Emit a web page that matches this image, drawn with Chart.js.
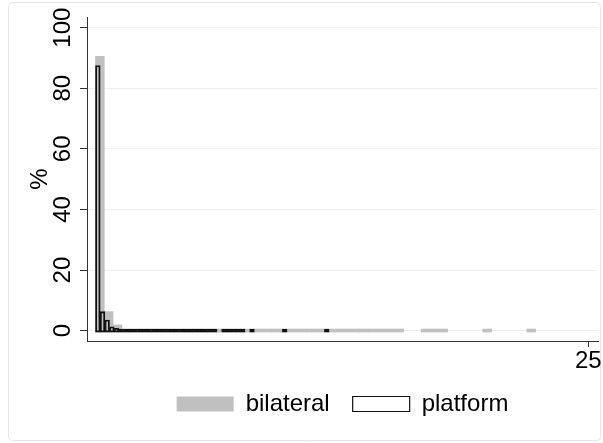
<!DOCTYPE html>
<html>
<head>
<meta charset="utf-8">
<script src="https://cdn.jsdelivr.net/npm/chart.js@4.4.1/dist/chart.umd.min.js"></script>
<style>
  html, body { margin: 0; padding: 0; background: #fff; }
</style>
</head>
<body>
<canvas id="chart" width="603" height="443"></canvas>
<script>
// Histogram data (percent per bin), 50 bins each
const seriesNames = ['bilateral', 'platform'];
const bilateralPct = [
  90.5, 6.3, 1.9, 0.4, 0.3, 0.2, 0.15, 0.12, 0.1, 0.1,
  0.09, 0.08, 0.08, 0.07, 0.07, 0.06, 0.06, 0.05, 0.05, 0.05,
  0.04, 0.04, 0.04, 0.03, 0.03, 0.03, 0.03, 0.02, 0.02, 0.02,
  0.02, 0.02, 0.02, 0.02, 0.02, null, null, 0.01, 0.01, 0.01,
  null, null, null, null, 0.01, null, null, null, null, 0.01
];
const platformPct = [
  87.5, 6.3, 3.5, 1.3, 0.8, 0.5, 0.3, 0.2, 0.15, 0.12,
  0.1, 0.09, 0.08, 0.07, 0.06, 0.05, 0.05, 0.04, 0.04, 0.03,
  0.03, 0.03, 0.02, 0.02, 0.02, 0.02, null, 0.01, 0.01, 0.01,
  0.01, 0.01, null, 0.01, null, null, null, null, null, null,
  0.01, null, null, null, null, null, null, null, null, 0.01
];
const binStart = 0;
const bilateralBinWidth = 0.4465;
const platformBinWidth = 0.237;
const xTicks = [25];
const yTicks = [0, 20, 40, 60, 80, 100];

const fontFamily = '"Liberation Sans", Arial, Helvetica, sans-serif';
const xMin = -0.431, xMax = 25.49;

// turn bin values into {x, y} points at the bin centres
function toBins(values, width) {
  return values.map((v, i) => ({ x: binStart + (i + 0.5) * width, y: v }));
}

// faint frame around the whole graph, like the Stata graph region
const framePlugin = {
  id: 'frame',
  beforeDraw(chart) {
    const c = chart.ctx;
    c.save();
    c.fillStyle = '#fff';
    c.fillRect(0, 0, chart.width, chart.height);
    c.strokeStyle = '#e2e6e9';
    c.lineWidth = 1;
    c.beginPath();
    c.roundRect(8.5, 2.5, 592, 438, 4);
    c.stroke();
    c.restore();
  }
};

const ctx = document.getElementById('chart').getContext('2d');
new Chart(ctx, {
  type: 'bar',
  data: {
    datasets: [
      {
        label: seriesNames[1],
        data: toBins(platformPct, platformBinWidth),
        xAxisID: 'x2',
        backgroundColor: 'rgba(0,0,0,0)',
        borderColor: '#111',
        borderWidth: 1.2,
        borderSkipped: false,
        minBarLength: 3,
        base: -0.45,
        barPercentage: 1,
        categoryPercentage: 1,
        grouped: false
      },
      {
        label: seriesNames[0],
        data: toBins(bilateralPct, bilateralBinWidth),
        xAxisID: 'x',
        backgroundColor: '#c0c0c0',
        borderWidth: 0,
        minBarLength: 3,
        base: -0.45,
        barPercentage: 1,
        categoryPercentage: 1,
        grouped: false
      }
    ]
  },
  options: {
    responsive: false,
    animation: false,
    layout: { padding: { top: 17, right: 5, left: 0, bottom: 17 } },
    scales: {
      x: {
        type: 'linear',
        position: 'bottom',
        min: xMin,
        max: xMax,
        offset: false,
        afterBuildTicks: s => { s.ticks = xTicks.map(v => ({ value: v })); },
        afterFit: s => { s.height = 28; s.paddingLeft = 0; s.paddingRight = 0; },
        grid: { display: true, drawOnChartArea: false, drawTicks: true, tickLength: 6, tickColor: '#333', offset: false },
        border: { display: true, color: '#333', width: 1 },
        ticks: { font: { size: 24, family: fontFamily }, color: '#000', padding: 0, maxRotation: 0, autoSkip: false }
      },
      x2: {
        type: 'linear',
        position: 'bottom',
        display: false,
        min: xMin,
        max: xMax,
        offset: false,
        afterBuildTicks: s => { s.ticks = xTicks.map(v => ({ value: v })); }
      },
      y: {
        min: -3.4,
        max: 103.5,
        afterBuildTicks: s => { s.ticks = yTicks.map(v => ({ value: v })); },
        afterFit: s => { s.width = 87; s.paddingTop = 0; s.paddingBottom = 0; },
        grid: { color: '#e9eff2', lineWidth: 1, drawTicks: true, tickLength: 7, tickColor: '#333' },
        border: { display: true, color: '#333', width: 1 },
        ticks: {
          minRotation: 90, maxRotation: 90, crossAlign: 'center', autoSkip: false,
          padding: -3, font: { size: 24, family: fontFamily }, color: '#000'
        },
        title: { display: true, text: '%', font: { size: 24, family: fontFamily }, color: '#000', padding: { top: 26, bottom: 0 } }
      }
    },
    plugins: {
      legend: {
        position: 'bottom',
        fullSize: false,
        reverse: true,
        labels: { boxWidth: 57, boxHeight: 15, padding: 23, font: { size: 24, family: fontFamily }, color: '#000' }
      },
      tooltip: { enabled: false }
    }
  },
  plugins: [framePlugin]
});
</script>
</body>
</html>
